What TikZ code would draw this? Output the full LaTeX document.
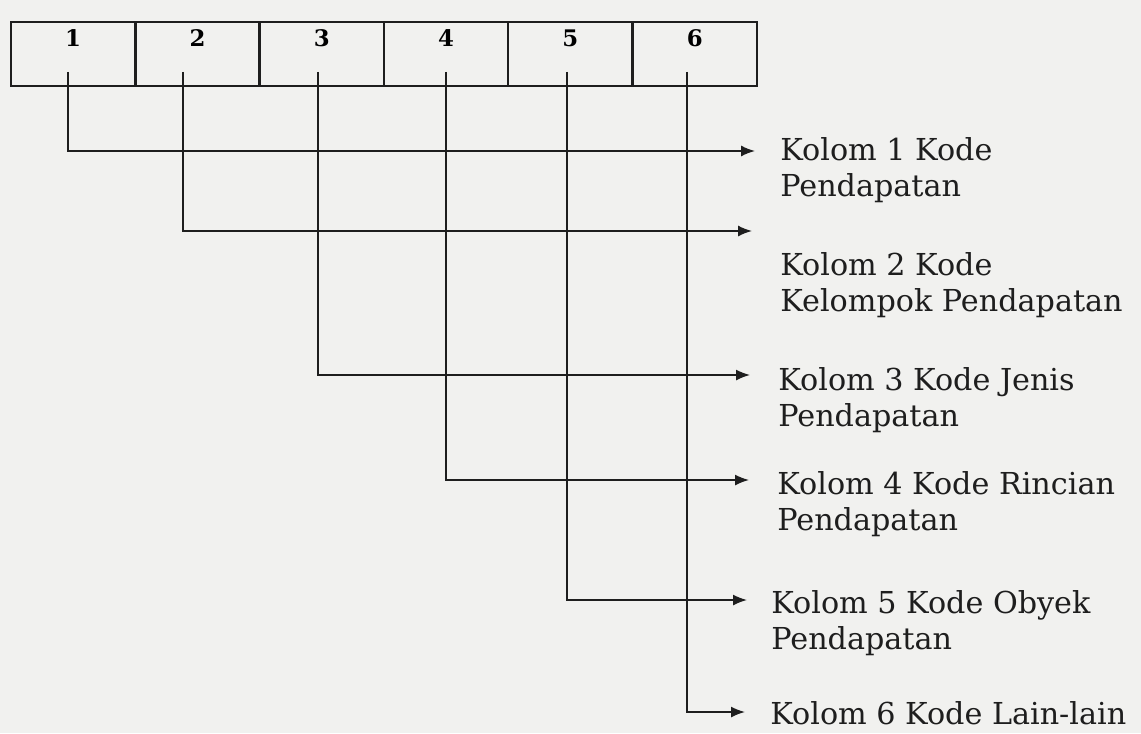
\documentclass[tikz,border=0pt]{standalone}
\usepackage{fontspec}
\setmainfont{DejaVu Serif}
\usetikzlibrary{arrows.meta,positioning}
\usepackage{xcolor}
\definecolor{InkBlack}{HTML}{1E1E1E}
\definecolor{PaperGray}{HTML}{F1F1EF}

\begin{document}
\begin{tikzpicture}[
    x=0.02cm, y=-0.02cm,
    cell/.style={draw=InkBlack, line width=1.4pt, outer sep=0pt, inner sep=0pt, minimum width=2.4867cm, minimum height=1.28cm, text height=0.5cm, text depth=0.78cm, font=\bfseries\fontsize{13pt}{15pt}\selectfont},
    conn/.style={-{Latex[length=2.8mm, width=2.2mm]}, draw=InkBlack, line width=0.9pt},
    lbl/.style={anchor=base west, align=left, inner sep=0pt, text=InkBlack, font=\fontsize{17.2pt}{20pt}\selectfont}
  ]
    \fill[PaperGray] (0,0) rectangle (1141,733);
    \useasboundingbox (0,0) rectangle (1141,733);

    % row of code columns
    \node[cell] (c1) at (73.17,54) {1};
    \node[cell, right=0pt of c1] (c2) {2};
    \node[cell, right=0pt of c2] (c3) {3};
    \node[cell, right=0pt of c3] (c4) {4};
    \node[cell, right=0pt of c4] (c5) {5};
    \node[cell, right=0pt of c5] (c6) {6};

    \coordinate (s1) at (68,72);
    \coordinate (s2) at (183,72);
    \coordinate (s3) at (318,72);
    \coordinate (s4) at (446,72);
    \coordinate (s5) at (567,72);
    \coordinate (s6) at (687,72);

    \coordinate (a1) at (755,151);
    \coordinate (a2) at (752,231);
    \coordinate (a3) at (750,375);
    \coordinate (a4) at (749,480);
    \coordinate (a5) at (747,600);
    \coordinate (a6) at (745,712);

    % descriptions (base = last line)
    \node[lbl] (k1) at (780,196) {Kolom 1 Kode\\Pendapatan};
    \node[lbl] (k2) at (780,311) {Kolom 2 Kode\\Kelompok Pendapatan};
    \node[lbl] (k3) at (778,426) {Kolom 3 Kode Jenis\\Pendapatan};
    \node[lbl] (k4) at (777,530) {Kolom 4 Kode Rincian\\Pendapatan};
    \node[lbl] (k5) at (771,649) {Kolom 5 Kode Obyek\\Pendapatan};
    \node[lbl] (k6) at (770,724) {Kolom 6 Kode Lain-lain};

    \draw[conn] (s1) |- (a1);
    \draw[conn] (s2) |- (a2);
    \draw[conn] (s3) |- (a3);
    \draw[conn] (s4) |- (a4);
    \draw[conn] (s5) |- (a5);
    \draw[conn] (s6) |- (a6);
  \end{tikzpicture}
\end{document}
